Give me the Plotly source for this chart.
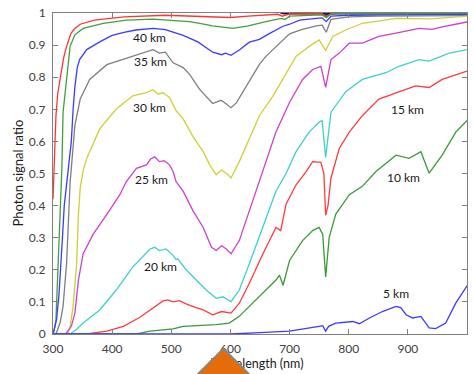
import plotly.graph_objects as go

# Photon signal ratio vs wavelength for a set of altitudes
wl_top_red = [300, 302, 305, 308, 312, 315, 318, 322, 326, 330, 336, 346, 370, 420, 490, 560, 600, 630, 680, 688, 700, 755, 762, 770, 1000]
ratio_top_red = [0.42, 0.55, 0.68, 0.75, 0.80, 0.83, 0.86, 0.89, 0.915, 0.935, 0.95, 0.965, 0.978, 0.988, 0.993, 0.99, 0.986, 0.99, 0.996, 0.99, 0.997, 0.998, 0.99, 0.998, 0.999]

wl_top_green = [300, 303, 305, 307, 309, 312, 315, 317, 322, 325, 329, 337, 351, 385, 424, 469, 531, 548, 570, 604, 630, 660, 686, 692, 700, 755, 762, 770, 800, 1000]
ratio_top_green = [0.0, 0.02, 0.045, 0.137, 0.27, 0.424, 0.516, 0.69, 0.783, 0.845, 0.897, 0.932, 0.952, 0.968, 0.978, 0.981, 0.973, 0.968, 0.96, 0.952, 0.96, 0.973, 0.983, 0.98, 0.99, 0.994, 0.985, 0.997, 0.998, 0.999]

wl_40km = [300, 303, 306, 310, 313, 316, 319, 323, 327, 331, 334, 337, 341, 345, 357, 379, 400, 420, 440, 469, 490, 520, 545, 570, 585, 592, 601, 615, 632, 649, 665, 677, 688, 700, 717, 745, 755, 762, 770, 800, 1000]
ratio_40km = [0.0, 0.02, 0.045, 0.12, 0.2, 0.3, 0.4, 0.47, 0.53, 0.6, 0.7, 0.77, 0.83, 0.855, 0.886, 0.91, 0.93, 0.94, 0.947, 0.952, 0.948, 0.93, 0.91, 0.878, 0.87, 0.875, 0.868, 0.885, 0.909, 0.918, 0.935, 0.947, 0.958, 0.965, 0.978, 0.983, 0.985, 0.973, 0.99, 0.993, 0.996]

wl_35km = [300, 305, 312, 317, 323, 326, 329, 331, 337, 346, 362, 391, 435, 469, 480, 490, 503, 520, 531, 548, 570, 584, 592, 601, 610, 632, 649, 660, 677, 688, 700, 720, 745, 755, 762, 770, 800, 850, 1000]
ratio_35km = [0.0, 0.0, 0.035, 0.086, 0.22, 0.373, 0.475, 0.516, 0.65, 0.732, 0.793, 0.839, 0.865, 0.886, 0.875, 0.878, 0.845, 0.83, 0.809, 0.762, 0.718, 0.728, 0.718, 0.705, 0.72, 0.79, 0.84, 0.865, 0.896, 0.916, 0.935, 0.948, 0.96, 0.962, 0.94, 0.98, 0.988, 0.99, 0.992]

wl_30km = [300, 325, 329, 334, 340, 343, 346, 351, 357, 379, 407, 435, 458, 469, 478, 486, 497, 508, 520, 537, 554, 565, 576, 585, 596, 601, 615, 632, 649, 672, 694, 711, 733, 750, 761, 773, 795, 823, 850, 880, 940, 1000]
ratio_30km = [0.0, 0.0, 0.024, 0.086, 0.22, 0.373, 0.455, 0.51, 0.547, 0.639, 0.701, 0.742, 0.752, 0.761, 0.747, 0.752, 0.737, 0.696, 0.67, 0.614, 0.568, 0.527, 0.496, 0.511, 0.496, 0.486, 0.537, 0.609, 0.68, 0.742, 0.814, 0.865, 0.896, 0.916, 0.883, 0.927, 0.947, 0.968, 0.975, 0.983, 0.982, 0.99]

wl_25km = [300, 320, 323, 331, 337, 343, 351, 368, 391, 413, 424, 441, 458, 465, 472, 480, 488, 497, 503, 508, 520, 537, 554, 568, 576, 585, 593, 601, 615, 632, 649, 677, 700, 722, 739, 753, 761, 770, 784, 801, 823, 851, 880, 919, 941, 958, 1000]
ratio_25km = [0.0, 0.0, 0.004, 0.024, 0.065, 0.168, 0.25, 0.311, 0.373, 0.434, 0.475, 0.516, 0.527, 0.545, 0.552, 0.537, 0.54, 0.527, 0.506, 0.475, 0.445, 0.383, 0.332, 0.27, 0.26, 0.275, 0.265, 0.25, 0.291, 0.383, 0.48, 0.629, 0.722, 0.793, 0.824, 0.834, 0.768, 0.855, 0.875, 0.906, 0.906, 0.927, 0.937, 0.952, 0.949, 0.957, 0.972]

wl_20km = [300, 329, 340, 351, 379, 407, 435, 458, 464, 472, 480, 491, 503, 508, 511, 525, 542, 559, 576, 587, 601, 615, 632, 655, 677, 694, 711, 733, 750, 755, 761, 770, 795, 823, 851, 863, 885, 919, 936, 958, 970, 1000]
ratio_20km = [0.0, 0.0, 0.015, 0.034, 0.075, 0.137, 0.209, 0.255, 0.265, 0.27, 0.26, 0.265, 0.245, 0.232, 0.234, 0.2, 0.168, 0.137, 0.111, 0.116, 0.101, 0.137, 0.219, 0.332, 0.445, 0.5, 0.568, 0.629, 0.66, 0.665, 0.55, 0.691, 0.755, 0.793, 0.806, 0.814, 0.834, 0.855, 0.85, 0.865, 0.875, 0.886]

wl_15km = [300, 357, 391, 419, 447, 469, 486, 494, 503, 514, 525, 542, 554, 570, 585, 601, 615, 632, 655, 677, 685, 694, 711, 728, 739, 753, 758, 761, 765, 770, 784, 801, 823, 851, 880, 913, 936, 958, 1000]
ratio_15km = [0.0, 0.0, 0.009, 0.024, 0.052, 0.08, 0.103, 0.106, 0.1, 0.104, 0.094, 0.082, 0.075, 0.06, 0.07, 0.065, 0.096, 0.158, 0.25, 0.332, 0.322, 0.404, 0.465, 0.506, 0.537, 0.535, 0.5, 0.37, 0.4, 0.486, 0.578, 0.629, 0.68, 0.732, 0.752, 0.773, 0.768, 0.793, 0.819]

wl_10km = [300, 441, 464, 503, 520, 576, 598, 615, 632, 655, 677, 683, 689, 700, 722, 739, 750, 756, 761, 767, 778, 801, 823, 846, 880, 902, 922, 936, 958, 981, 1000]
ratio_10km = [0.0, 0.0, 0.009, 0.016, 0.024, 0.029, 0.034, 0.055, 0.086, 0.127, 0.168, 0.183, 0.152, 0.229, 0.291, 0.322, 0.332, 0.311, 0.178, 0.301, 0.373, 0.434, 0.46, 0.506, 0.557, 0.547, 0.568, 0.501, 0.557, 0.629, 0.665]

wl_5km = [300, 600, 650, 700, 750, 756, 761, 766, 778, 807, 818, 835, 857, 880, 888, 897, 908, 922, 936, 947, 964, 981, 1000]
ratio_5km = [0.0, 0.0, 0.004, 0.009, 0.024, 0.026, 0.009, 0.024, 0.034, 0.039, 0.032, 0.05, 0.07, 0.086, 0.082, 0.06, 0.05, 0.055, 0.019, 0.017, 0.034, 0.096, 0.15]

# higher altitudes, saturated close to 1 (long-wavelength part)
wl_upper = [685, 690, 755, 762, 770, 780, 800, 1000]
ratio_upper_red = [1.0, 0.997, 0.997, 0.99, 0.997, 0.998, 1.0, 1.0]
ratio_upper_green = [1.0, 1.0, 0.999, 0.994, 0.998, 0.998, 0.998, 0.999]
ratio_upper_blue = [1.0, 1.0, 1.0, 0.997, 1.0, 0.999, 0.998, 0.998]

altitude_labels = ["40 km", "35 km", "30 km", "25 km", "20 km", "15 km", "10 km", "5 km"]
label_wl = [464, 465, 463, 467, 481, 900, 892, 880]
label_ratio = [0.925, 0.848, 0.705, 0.48, 0.21, 0.7, 0.487, 0.125]

x_ticks = [300, 400, 500, 600, 700, 800, 900, 1000]
y_ticks = [0, 0.1, 0.2, 0.3, 0.4, 0.5, 0.6, 0.7, 0.8, 0.9, 1]
y_tick_text = ["0", "0.1", "0.2", "0.3", "0.4", "0.5", "0.6", "0.7", "0.8", "0.9", "1"]

series = [
    (wl_upper, ratio_upper_red, "#A80000"),
    (wl_upper, ratio_upper_green, "#006A00"),
    (wl_upper, ratio_upper_blue, "#00008F"),
    (wl_top_red, ratio_top_red, "#FF3535"),
    (wl_top_green, ratio_top_green, "#3DA23D"),
    (wl_40km, ratio_40km, "#3B3BFF"),
    (wl_35km, ratio_35km, "#7F7F7F"),
    (wl_30km, ratio_30km, "#CFCF38"),
    (wl_25km, ratio_25km, "#CC40CC"),
    (wl_20km, ratio_20km, "#3FCFCF"),
    (wl_15km, ratio_15km, "#FF3B3B"),
    (wl_10km, ratio_10km, "#3A9A3A"),
    (wl_5km, ratio_5km, "#3B3BFF"),
]

fig = go.Figure()
for wl, ratio, color in series:
    fig.add_trace(go.Scatter(x=wl, y=ratio, mode="lines",
                             line=dict(color=color, width=1.3),
                             showlegend=False, hoverinfo="skip"))

axis_common = dict(
    showline=True, linecolor="#808080", linewidth=1, mirror="ticks",
    ticks="inside", ticklen=5, tickcolor="#808080", showgrid=False,
    zeroline=False, tickfont=dict(family="Lato", size=12, color="#404040"),
)
fig.update_xaxes(range=[300, 1000], tickvals=x_ticks, ticklabelstandoff=4, **axis_common)
fig.update_yaxes(range=[0, 1], tickvals=y_ticks, ticktext=y_tick_text, ticklabelstandoff=4, **axis_common)

annotations = []
for text, xv, yv in zip(altitude_labels, label_wl, label_ratio):
    annotations.append(dict(x=xv, y=yv, xref="x", yref="y", text=text, showarrow=False,
                            font=dict(family="Lato", size=12, color="#1A1A1A")))

# axis titles
annotations.append(dict(x=(258 - 53) / 415, y=(334 - 364) / 325, xref="paper", yref="paper",
                        xanchor="center", yanchor="middle", text="Wavelength (nm)", showarrow=False,
                        font=dict(family="Lato", size=12.5, color="#1A1A1A")))
annotations.append(dict(x=(17 - 53) / 415, y=0.5, xref="paper", yref="paper",
                        xanchor="center", yanchor="middle", text="Photon signal ratio", showarrow=False,
                        textangle=-90, font=dict(family="Lato", size=13, color="#1A1A1A")))
# orange pointer marker below the axis
annotations.append(dict(x=(224 - 53) / 415, y=(334 - 381) / 325, xref="paper", yref="paper",
                        xanchor="center", yanchor="middle", text=" ", showarrow=False,
                        width=44, height=44, textangle=45, bgcolor="#E46C0A",
                        bordercolor="#6E8CA6", borderwidth=1.5, borderpad=0))

fig.update_layout(
    width=473, height=374,
    margin=dict(l=53, r=5, t=9, b=40),
    paper_bgcolor="white", plot_bgcolor="white",
    annotations=annotations,
)

fig.write_html("out.html")
